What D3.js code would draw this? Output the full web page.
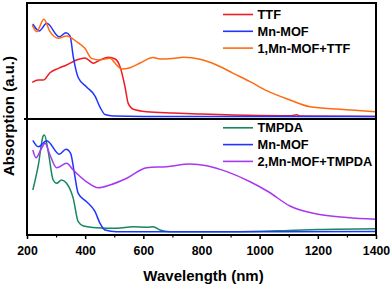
<!DOCTYPE html>
<html><head><meta charset="utf-8">
<script src="https://cdn.jsdelivr.net/npm/d3@7"></script>
<style>body{margin:0;background:#fff}svg{display:block}text{font-family:"Liberation Sans",Arial,sans-serif;font-weight:bold;fill:#000}</style>
</head><body><div id="chart"></div>
<script>
// wavelengths (nm) and absorbance (a.u., normalized per panel)
const ttfWl = [218,239,256,279,308,336,371,399,411,428,451,480,503,520,537,548,566,612,703,800,1000,1110,1127,1140,1400];
const ttfAbs = [0.316,0.336,0.336,0.399,0.437,0.466,0.509,0.526,0.509,0.480,0.509,0.532,0.517,0.451,0.278,0.135,0.084,0.063,0.052,0.043,0.030,0.028,0.036,0.026,0.022];
const mofWl = [220,242,268,311,334,348,359,376,405,434,451,468,497,600,800,1000,1400];
const mofAbsTop = [0.819,0.759,0.825,0.709,0.744,0.716,0.537,0.358,0.276,0.198,0.103,0.039,0.026,0.022,0.022,0.022,0.022];
const mix1Wl = [218,233,258,279,308,336,371,399,422,451,485,508,526,554,589,634,657,700,738,795,852,909,967,1024,1104,1173,1276,1400];
const mix1Abs = [0.810,0.753,0.859,0.753,0.696,0.716,0.666,0.609,0.523,0.509,0.523,0.466,0.431,0.442,0.483,0.530,0.517,0.522,0.532,0.515,0.466,0.394,0.322,0.244,0.164,0.106,0.084,0.063];

const tmpdaWl = [220,239,256,260,273,290,302,319,336,359,376,394,440,508,566,612,634,657,692,900,1100,1200,1400];
const tmpdaAbs = [0.388,0.603,0.856,0.862,0.718,0.474,0.446,0.474,0.446,0.316,0.115,0.078,0.063,0.058,0.072,0.066,0.072,0.043,0.028,0.028,0.039,0.047,0.054];
const mofWl2 = [220,239,268,311,334,350,362,376,405,434,451,468,508,800,1400];
const mofAbsBot = [0.816,0.761,0.813,0.696,0.739,0.704,0.546,0.359,0.287,0.201,0.101,0.043,0.028,0.028,0.030];
const mix2Wl = [220,231,250,262,279,302,336,359,405,445,485,543,612,680,760,818,887,967,1030,1104,1196,1300,1400];
const mix2Abs = [0.733,0.666,0.747,0.791,0.690,0.580,0.618,0.560,0.459,0.408,0.431,0.489,0.580,0.589,0.612,0.597,0.546,0.459,0.373,0.250,0.181,0.151,0.135];

const xTicks = [200,400,600,800,1000,1200,1400];
const xMinor = [300,500,700,900,1100,1300];
const legend1 = ["TTF","Mn-MOF","1,Mn-MOF+TTF"];
const legend2 = ["TMPDA","Mn-MOF","2,Mn-MOF+TMPDA"];
const colors1 = ["#ee1c24","#1f35ff","#ff6a10"];
const colors2 = ["#17875c","#1f35ff","#a838f0"];

const W = 392, H = 285;
const L = 27, R = 376, T = 3, M = 119, B = 235;
const svg = d3.select("#chart").append("svg").attr("width", W).attr("height", H);
const x = d3.scaleLinear().domain([200,1400]).range([L,R]);
const yTop = d3.scaleLinear().domain([0,1]).range([M,T]);
const yBot = d3.scaleLinear().domain([0,1]).range([B,M]);

svg.append("clipPath").attr("id","cTop").append("rect").attr("x",L).attr("y",T).attr("width",R-L).attr("height",M-T);
svg.append("clipPath").attr("id","cBot").append("rect").attr("x",L).attr("y",M).attr("width",R-L).attr("height",B-M);

function drawSeries(wl, ab, y, color, clip) {
  const data = wl.map((w,i)=>[w,ab[i]]);
  const line = d3.line().x(d=>x(d[0])).y(d=>y(d[1])).curve(d3.curveMonotoneX);
  svg.append("path").datum(data).attr("d", line).attr("fill","none")
    .attr("stroke", color).attr("stroke-width",1.5).attr("clip-path",`url(#${clip})`);
}
drawSeries(ttfWl, ttfAbs, yTop, colors1[0], "cTop");
drawSeries(mofWl, mofAbsTop, yTop, colors1[1], "cTop");
drawSeries(mix1Wl, mix1Abs, yTop, colors1[2], "cTop");
drawSeries(tmpdaWl, tmpdaAbs, yBot, colors2[0], "cBot");
drawSeries(mofWl2, mofAbsBot, yBot, colors2[1], "cBot");
drawSeries(mix2Wl, mix2Abs, yBot, colors2[2], "cBot");

// frame
svg.append("rect").attr("x",L).attr("y",T).attr("width",R-L).attr("height",B-T)
  .attr("fill","none").attr("stroke","#000").attr("stroke-width",2);
svg.append("line").attr("x1",L-3).attr("x2",R).attr("y1",M).attr("y2",M).attr("stroke","#000").attr("stroke-width",2);

// x axis
const ax = svg.append("g").attr("transform",`translate(0,${B})`)
  .call(d3.axisBottom(x).tickValues(xTicks).tickSize(4).tickPadding(7).tickFormat(d3.format("d")));
ax.select(".domain").remove();
ax.selectAll(".tick line").attr("stroke","#000").attr("stroke-width",1.5);
ax.selectAll("text").style("font-size","12.3px").style("font-family","'Liberation Sans',Arial,sans-serif").style("font-weight","bold");
const axm = svg.append("g").attr("transform",`translate(0,${B})`)
  .call(d3.axisBottom(x).tickValues(xMinor).tickSize(2.5).tickFormat(""));
axm.select(".domain").remove();
axm.selectAll(".tick line").attr("stroke","#000").attr("stroke-width",1.2);

svg.append("text").attr("x",(L+R)/2+2).attr("y",280.5).attr("text-anchor","middle")
  .style("font-size","15px").text("Wavelength (nm)");
svg.append("text").attr("transform",`translate(13.5,${(T+B)/2-3}) rotate(-90)`).attr("text-anchor","middle")
  .style("font-size","15px").text("Absorption (a.u.)");

// legends
function legend(labels, cols, y0) {
  labels.forEach((t,i)=>{
    const yy = y0 + i*16.8;
    svg.append("line").attr("x1",223).attr("x2",253).attr("y1",yy).attr("y2",yy).attr("stroke",cols[i]).attr("stroke-width",1.6);
    svg.append("text").attr("x",257.5).attr("y",yy+4.5).style("font-size","12.8px").text(t);
  });
}
legend(legend1, colors1, 14.5);
legend(legend2, colors2, 127.8);
</script></body></html>
